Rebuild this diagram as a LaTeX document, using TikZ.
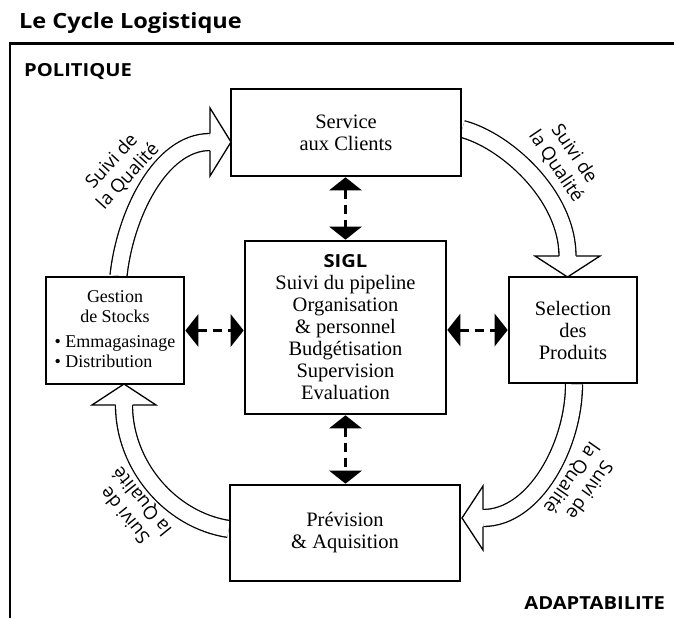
\documentclass[tikz,border=0pt]{standalone}
\usepackage{fontspec}
\setmainfont{Liberation Serif}
\newfontfamily\sansf{Open Sans}
\newfontfamily\sanshd{Open Sans}[FakeStretch=1.12]
\usetikzlibrary{arrows.meta,backgrounds}
\begin{document}
\begin{tikzpicture}[x=1pt,y=-1pt,
  box/.style={draw, line width=2.6pt, fill=white, inner sep=0pt, align=center,
    font=\fontsize{20.5}{22}\selectfont},
  dashar/.style={line width=3pt, dash pattern=on 9pt off 6pt,
    {Triangle[length=13pt,width=32pt]}-{Triangle[length=13pt,width=32pt]}},
  shaft/.style={double=white, double distance=15.7pt, line width=1.3pt},
  headst/.style={fill=white, draw, line width=1.3pt, line join=miter},
  lbl/.style={font=\sansf\fontsize{18.5}{22}\selectfont, align=center, inner sep=0pt},
  hdr/.style={font=\sanshd\bfseries\fontsize{18}{22}\selectfont, inner sep=0pt}
  ]
\useasboundingbox (0,0) rectangle (674,618);

% title and frame
\node[hdr, font=\sanshd\bfseries\fontsize{21}{25}\selectfont, anchor=base west] (title) at (19,29) {Le Cycle Logistique};
\draw[line width=2.8pt, line join=miter] (674,43.5) -- (10,43.5) -- (10,618);
\node[hdr, anchor=base west] (pol) at (24,77) {POLITIQUE};
\node[hdr, anchor=base east] (adapt) at (665,609) {ADAPTABILITE};

% boxes
\node[box, minimum width=230pt, minimum height=87pt] (svc) at (346,132.5) {Service\\aux Clients};
\node[box, minimum width=201pt, minimum height=173pt] (sigl) at (345.5,327.5)
  {{\sanshd\bfseries\fontsize{18}{22}\selectfont SIGL}\\Suivi du pipeline\\Organisation\\\& personnel\\Budgétisation\\Supervision\\Evaluation};
\node[box, minimum width=138pt, minimum height=107pt, font=\fontsize{18}{20}\selectfont] (stk) at (115,330.5)
  {\begin{tabular}{@{}l@{}}\multicolumn{1}{@{}c@{}}{Gestion}\\\multicolumn{1}{@{}c@{}}{de Stocks}\\[5pt]• Emmagasinage\\• Distribution\end{tabular}};
\node[box, minimum width=128pt, minimum height=106pt] (sel) at (573,330) {Selection\\des\\Produits};
\node[box, minimum width=230pt, minimum height=96pt] (prev) at (345,533) {Prévision\\\& Aquisition};

% dashed double arrows
\draw[dashar] (sigl.north |- svc.south) -- (sigl.north);
\draw[dashar] (sigl.south) -- (sigl.south |- prev.north);
\draw[dashar] (stk.east) -- (stk.east -| sigl.west);
\draw[dashar] (sel.west -| sigl.east) -- (sel.west);

% curved hollow arrows
\begin{scope}[on background layer]
\fill[white] (0,0) rectangle (674,618);
\draw[shaft] ([xshift=3.5pt]stk.north) .. controls (125,215) and (160,142) .. (210,142);
\filldraw[headst] (210,133.5) -- (210,108) -- (231,142) -- (210,176) -- (210,150.5);
\draw[shaft] ([yshift=3.5pt]svc.east) .. controls (505,140) and (567.5,195) .. (567.5,256);
\filldraw[headst] (559,256) -- (535,256) -- (567.5,277) -- (600,256) -- (576,256);
\draw[shaft] ([xshift=1pt]sel.south) .. controls (574,445) and (535,518) .. (483,518);
\filldraw[headst] (483,509.5) -- (483,486) -- (462,518) -- (483,550) -- (483,526.5);
\draw[shaft] ([yshift=4pt]prev.west) .. controls (170,520) and (124,465) .. (124,405);
\filldraw[headst] (115.5,405) -- (92,405) -- (124,384) -- (156,405) -- (132.5,405);
\end{scope}

% labels
\node[lbl, rotate=47.5] (q1) at (120,169) {Suivi de\\la Qualité};
\node[lbl, rotate=-56] (q2) at (565,160) {Suivi de\\la Qualité};
\node[lbl, rotate=-125] (q3) at (580,484) {Suivi de\\la Qualité};
\node[lbl, rotate=129] (q4) at (134,508) {Suivi de\\la Qualité};
\end{tikzpicture}
\end{document}
